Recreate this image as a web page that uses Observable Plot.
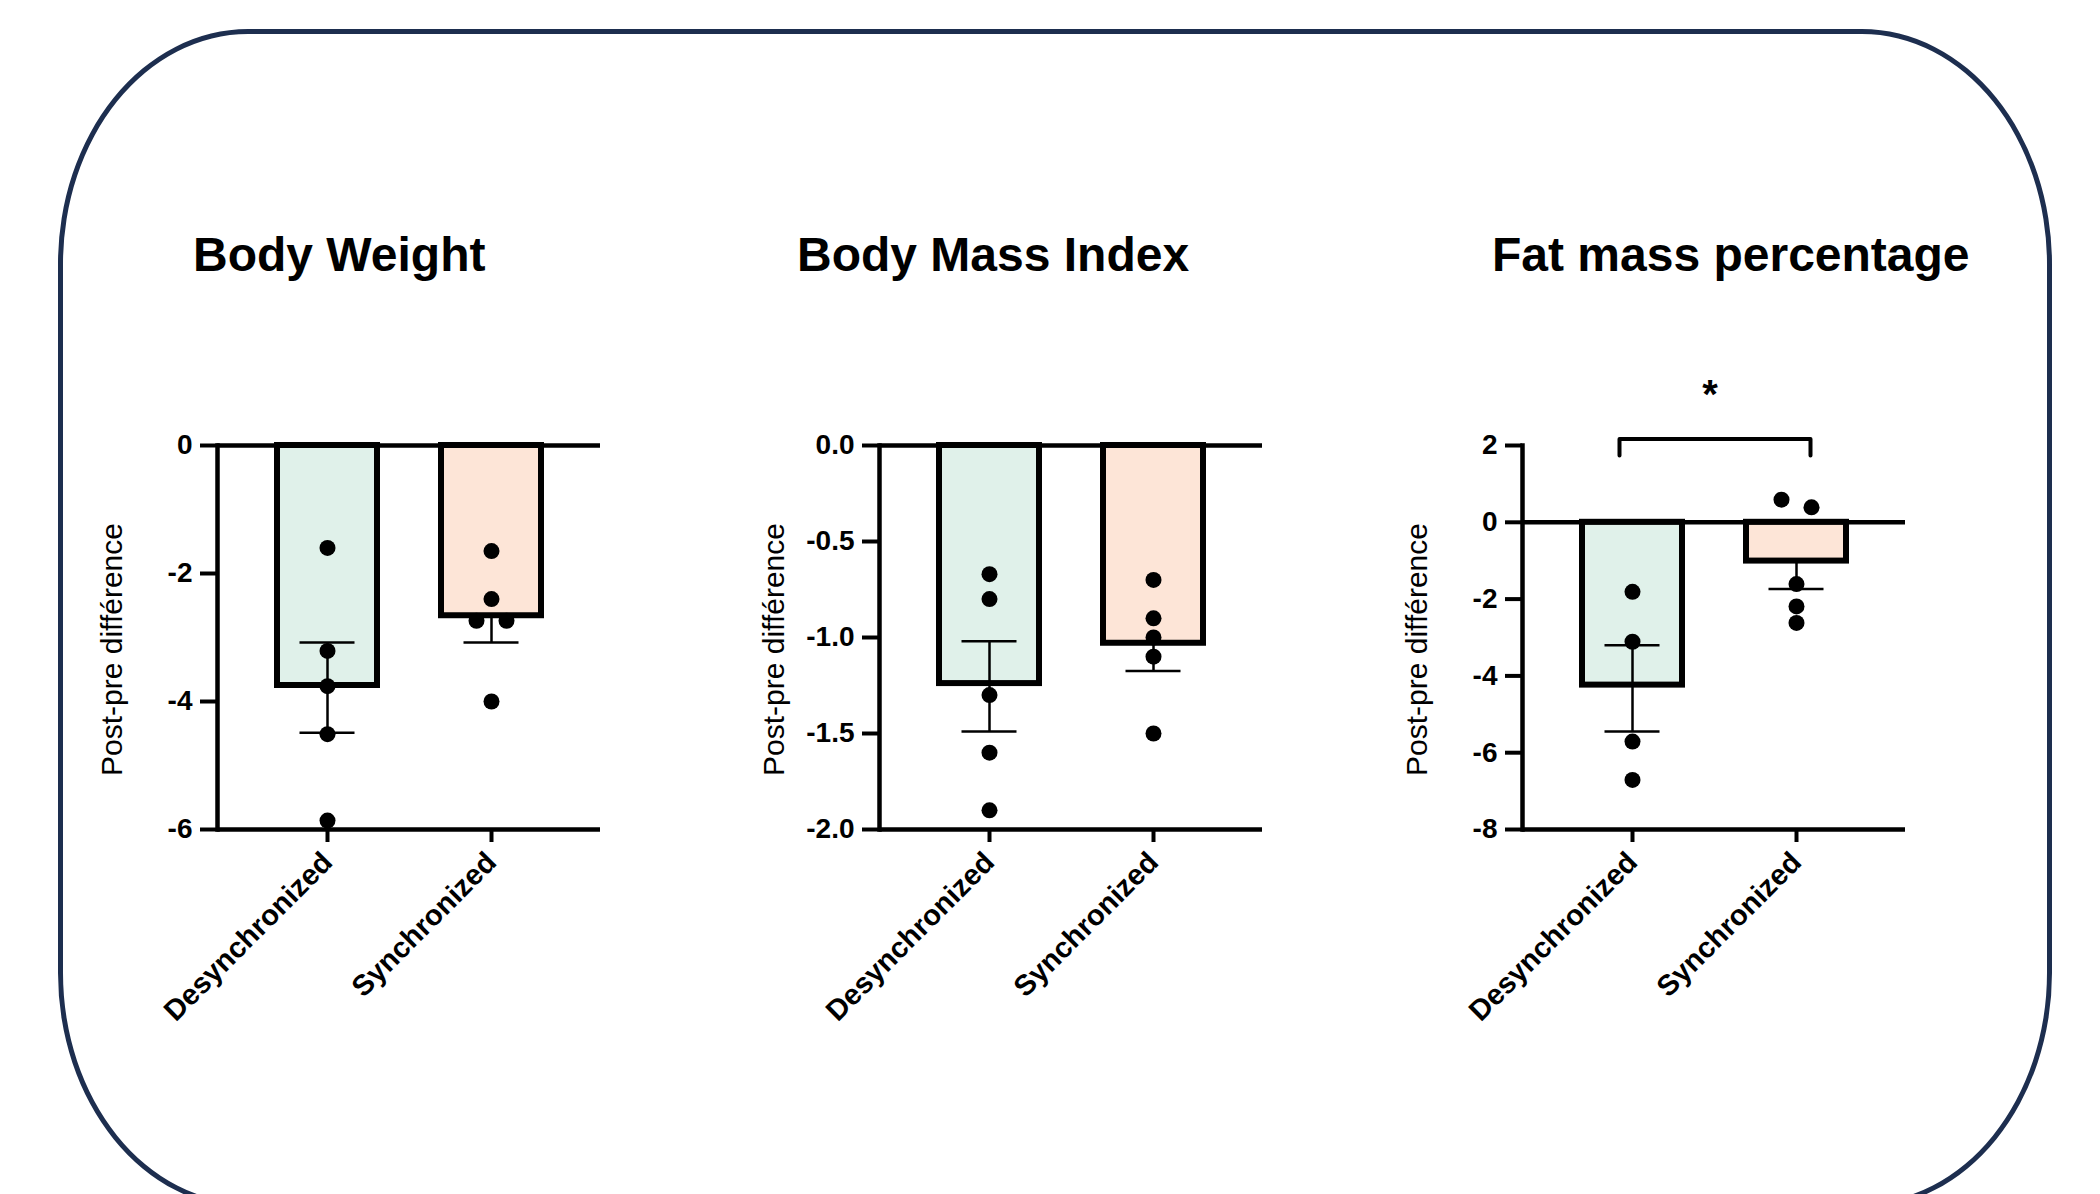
<!DOCTYPE html>
<html>
<head>
<meta charset="utf-8">
<script src="https://cdn.jsdelivr.net/npm/d3@7"></script>
<script src="https://cdn.jsdelivr.net/npm/@observablehq/plot@0.6"></script>
<style>
  html, body { margin: 0; padding: 0; background: #fff; }
  #root { position: relative; width: 2100px; height: 1194px; overflow: hidden; background: #fff;
          font-family: "Liberation Sans", Arial, Helvetica, sans-serif; color: #000; }
  #border { position: absolute; left: 58px; top: 29px; width: 1994px; height: 1179px; box-sizing: border-box;
            border: 5px solid #1d2e4f; border-radius: 190px / 235px; }
  .title { position: absolute; top: 231px; font-size: 48px; font-weight: bold; line-height: 48px; white-space: nowrap; }
  .panel { position: absolute; top: 330px; width: 580px; }
</style>
</head>
<body>
<div id="root">
  <div id="border"></div>
</div>
<script>
// ---------- data ----------
const groups = ["Desynchronized", "Synchronized"];
const groupFills = ["#e0f1ea", "#fde5d7"];
const yLabel = "Post-pre différence";

const titles = ["Body Weight", "Body Mass Index", "Fat mass percentage"];

// Body Weight
const bwMeans = [-3.75, -2.66];
const bwErrTop = [-3.08, null];        // null: whisker starts at the bar end (one-sided)
const bwErrBottom = [-4.49, -3.08];
const bwDesync = [-1.60, -3.21, -3.76, -4.51, -5.86];
const bwSync = [-1.65, -2.40, -2.74, -2.74, -4.00];
const bwTicks = [0, -2, -4, -6];
const bwDomain = [-6, 0];

// Body Mass Index
const bmiMeans = [-1.24, -1.03];
const bmiErrTop = [-1.02, null];
const bmiErrBottom = [-1.49, -1.175];
const bmiDesync = [-0.67, -0.80, -1.30, -1.60, -1.90];
const bmiSync = [-0.70, -0.90, -1.00, -1.10, -1.50];
const bmiTicks = [0, -0.5, -1, -1.5, -2];
const bmiDomain = [-2, 0];

// Fat mass percentage
const fmMeans = [-4.24, -1.01];
const fmErrTop = [-3.20, null];
const fmErrBottom = [-5.45, -1.74];
const fmDesync = [-1.81, -3.11, -5.71, -6.71];
const fmSync = [0.59, 0.39, -1.61, -2.19, -2.62];
const fmTicks = [2, 0, -2, -4, -6, -8];
const fmDomain = [-8, 2];

// significance annotation (fat mass)
const sigLabel = "*";
const sigBracketTop = 2.17;
const sigBracketFoot = 1.74;
const sigStarY = 3.56;

// ---------- layout ----------
const panelLefts = [67, 729, 1372];
const titleLefts = [193, 797, 1492];
const W = 580, H = 730, ML = 150, MR = 47, MT = 115, MB = 231;
const frameH = H - MT - MB;

function spreadSides(values, threshold) {
  const order = values.map((v, i) => i).sort((a, b) => values[b] - values[a]);
  const side = values.map(() => 0);
  for (let k = 1; k < order.length; k++) {
    const a = order[k - 1], b = order[k];
    if (Math.abs(values[a] - values[b]) < threshold && side[a] === 0) { side[a] = -1; side[b] = 1; }
  }
  return side;
}

function panel({means, errTop, errBottom, points, ticks, domain, fmt, sig}) {
  const bars = groups.map((g, i) => ({group: g, mean: means[i]}));
  const errs = groups.map((g, i) => ({group: g, top: errTop[i] ?? means[i], bottom: errBottom[i], hasTop: errTop[i] != null}));
  const thr = 15 * (domain[1] - domain[0]) / frameH;
  const dots = [];
  groups.forEach((g, i) => {
    const s = spreadSides(points[i], thr);
    points[i].forEach((v, j) => dots.push({group: g, value: v, side: s[j]}));
  });
  const dotOpts = {x: "group", y: "value", r: 8, fill: "#000", stroke: "none"};
  const marks = [
    Plot.barY(bars, {x: "group", y: "mean", fill: "group", stroke: "#000", strokeWidth: 6}),
    Plot.ruleY([0], {stroke: "#000", strokeWidth: 4.5}),
    Plot.ruleY([domain[0]], {stroke: "#000", strokeWidth: 4.5}),
    Plot.frame({anchor: "left", stroke: "#000", strokeWidth: 4.5}),
    Plot.axisY({ticks, tickFormat: fmt, tickSize: 17, tickPadding: 8, fontSize: 28, fontWeight: "bold", strokeWidth: 4, label: null}),
    Plot.axisX({tickRotate: -45, tickSize: 13, tickPadding: 15, fontSize: 29, fontWeight: "bold", strokeWidth: 4, label: null}),
    Plot.ruleX(errs, {x: "group", y1: "top", y2: "bottom", stroke: "#000", strokeWidth: 2.5}),
    Plot.tickY(errs.filter(d => d.hasTop), {x: "group", y: "top", stroke: "#000", strokeWidth: 2.5, insetLeft: 22.5, insetRight: 22.5}),
    Plot.tickY(errs, {x: "group", y: "bottom", stroke: "#000", strokeWidth: 2.5, insetLeft: 22.5, insetRight: 22.5}),
    Plot.dot(dots.filter(d => d.side === 0), dotOpts),
    Plot.dot(dots.filter(d => d.side < 0), {...dotOpts, dx: -15}),
    Plot.dot(dots.filter(d => d.side > 0), {...dotOpts, dx: 15}),
    Plot.text([yLabel], {text: d => d, frameAnchor: "left", textAnchor: "middle", rotate: -90, dx: -105, dy: 12, fontSize: 30, fill: "#000"})
  ];
  if (sig) {
    const left = [{g: groups[0], y: sigBracketFoot}, {g: groups[0], y: sigBracketTop}, {g: groups[1], y: sigBracketTop}];
    const right = [{g: groups[0], y: sigBracketTop}, {g: groups[1], y: sigBracketTop}, {g: groups[1], y: sigBracketFoot}];
    marks.push(
      Plot.line(left, {x: "g", y: "y", stroke: "#000", strokeWidth: 4, dx: -13}),
      Plot.line(right, {x: "g", y: "y", stroke: "#000", strokeWidth: 4, dx: 14}),
      Plot.text([sigLabel], {text: d => d, y: () => sigStarY, frameAnchor: "middle", fontSize: 40, fontWeight: "bold", dy: 10, dx: -4, fill: "#000"})
    );
  }
  return Plot.plot({
    width: W, height: H,
    marginLeft: ML, marginRight: MR, marginTop: MT, marginBottom: MB,
    style: {fontFamily: '"Liberation Sans", Arial, Helvetica, sans-serif', color: "#000", background: "transparent", overflow: "visible"},
    x: {domain: groups, paddingInner: 0.392, paddingOuter: 0.36, axis: null},
    y: {domain, axis: null},
    color: {domain: groups, range: groupFills},
    marks
  });
}

const root = document.getElementById("root");
const specs = [
  {means: bwMeans, errTop: bwErrTop, errBottom: bwErrBottom, points: [bwDesync, bwSync], ticks: bwTicks, domain: bwDomain, fmt: d => String(d)},
  {means: bmiMeans, errTop: bmiErrTop, errBottom: bmiErrBottom, points: [bmiDesync, bmiSync], ticks: bmiTicks, domain: bmiDomain, fmt: d => d.toFixed(1)},
  {means: fmMeans, errTop: fmErrTop, errBottom: fmErrBottom, points: [fmDesync, fmSync], ticks: fmTicks, domain: fmDomain, fmt: d => String(d), sig: true}
];
specs.forEach((s, i) => {
  const t = document.createElement("div");
  t.className = "title";
  t.style.left = titleLefts[i] + "px";
  t.textContent = titles[i];
  root.appendChild(t);
  const p = document.createElement("div");
  p.className = "panel";
  p.style.left = panelLefts[i] + "px";
  p.appendChild(panel(s));
  root.appendChild(p);
});
</script>
</body>
</html>
